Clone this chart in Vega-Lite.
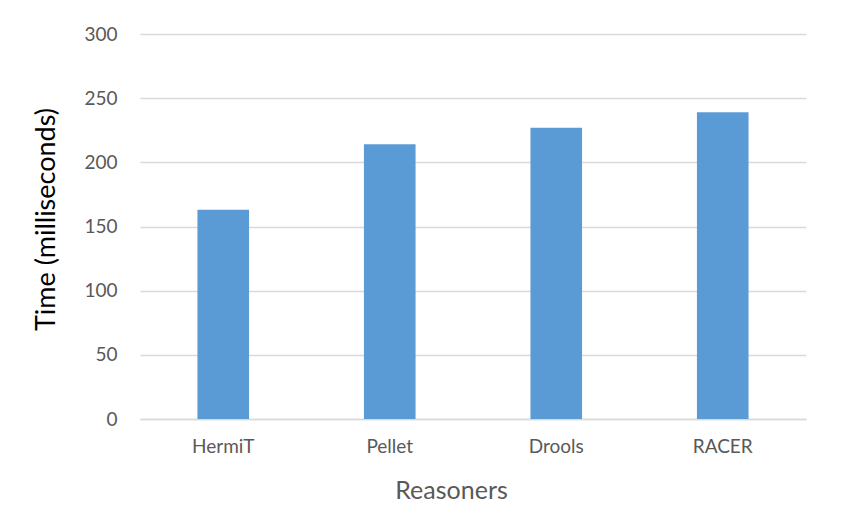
{
  "$schema": "https://vega.github.io/schema/vega-lite/v6.json",
  "width": 666,
  "height": 385,
  "autosize": {"type": "none"},
  "padding": {"left": 140, "top": 34, "right": 37, "bottom": 93},
  "background": "white",
  "config": {
    "font": "Lato",
    "view": {"stroke": null}
  },
  "data": {
    "values": [
      {"reasoner": "HermiT", "time": 163},
      {"reasoner": "Pellet", "time": 214},
      {"reasoner": "Drools", "time": 227},
      {"reasoner": "RACER", "time": 239}
    ]
  },
  "mark": {"type": "bar", "color": "#5B9BD5"},
  "encoding": {
    "x": {
      "field": "reasoner",
      "type": "nominal",
      "sort": null,
      "scale": {"paddingInner": 0.69, "paddingOuter": 0.345},
      "axis": {
        "title": "Reasoners",
        "titleFont": "Lato",
        "titleFontSize": 25,
        "titleFontWeight": "normal",
        "titleColor": "#595959",
        "titleX": 311,
        "titleY": 79,
        "titleBaseline": "alphabetic",
        "labelAngle": 0,
        "labelFont": "Lato",
        "labelFontSize": 19,
        "labelColor": "#595959",
        "labelPadding": 18,
        "ticks": false,
        "domainColor": "#D9D9D9",
        "domainWidth": 1.3
      }
    },
    "y": {
      "field": "time",
      "type": "quantitative",
      "scale": {"domain": [0, 300], "nice": false},
      "axis": {
        "title": "Time (milliseconds)",
        "titleFont": "Lato",
        "titleFontSize": 27,
        "titleFontWeight": "normal",
        "titleColor": "#000000",
        "titleX": -94,
        "titleY": 185,
        "titleAngle": -90,
        "titleAlign": "center",
        "titleBaseline": "middle",
        "values": [0, 50, 100, 150, 200, 250, 300],
        "labelFont": "Lato",
        "labelFontSize": 19,
        "labelColor": "#595959",
        "labelPadding": 23,
        "ticks": false,
        "domain": false,
        "grid": true,
        "gridColor": "#D9D9D9",
        "gridWidth": 1.3
      }
    }
  }
}
